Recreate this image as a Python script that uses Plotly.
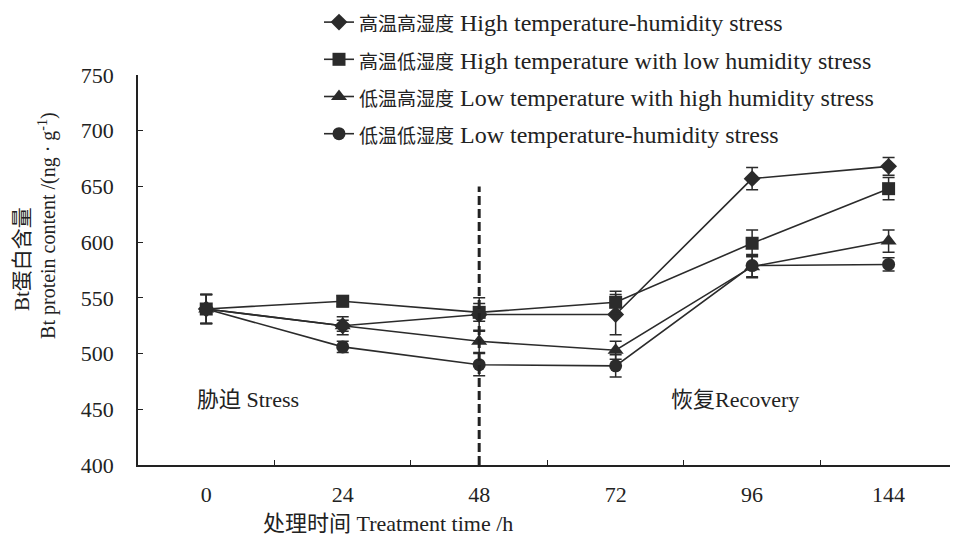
import plotly.graph_objects as go

times = ["0", "24", "48", "72", "96", "144"]

names_cn = ["高温高湿度", "高温低湿度", "低温高湿度", "低温低湿度"]
names_en = [
    "High temperature-humidity stress",
    "High temperature with low humidity stress",
    "Low temperature with high humidity stress",
    "Low temperature-humidity stress",
]
symbols = ["diamond", "square", "triangle-up", "circle"]

ht_hh = [540, 525, 535, 535, 657, 668]
ht_hh_err = [13, 5, 15, 18, 10, 8]
ht_lh = [540, 547, 537, 546, 599, 648]
ht_lh_err = [13, 5, 8, 10, 12, 10]
lt_hh = [540, 525, 511, 503, 578, 601]
lt_hh_err = [13, 8, 10, 8, 10, 10]
lt_lh = [540, 506, 490, 489, 579, 580]
lt_lh_err = [13, 5, 10, 10, 10, 6]

series = [ht_hh, ht_lh, lt_hh, lt_lh]
errors = [ht_hh_err, ht_lh_err, lt_hh_err, lt_lh_err]

stress_end = "48"
divider_top = 650

FONT = "Liberation Serif, Times New Roman, Noto Sans CJK SC, serif"
INK = "#222222"
MARK = "#2b2b2b"

fig = go.Figure()
for i, (cn, en, sym, ys, es) in enumerate(zip(names_cn, names_en, symbols, series, errors)):
    fig.add_trace(go.Scatter(
        x=times, y=ys,
        name=f'<span style="font-size:19px">{cn}</span> {en}',
        mode="lines+markers",
        legendgroup=f"g{i}",
        line=dict(color=MARK, width=1.6),
        marker=dict(symbol=sym, size=13 if sym != "triangle-up" else 14, color=MARK,
                    line=dict(width=0)),
        error_y=dict(type="data", array=es, visible=True, color=MARK,
                     thickness=1.5, width=6),
    ))

xi = times.index(stress_end)
fig.add_shape(type="line", xref="x", yref="y", x0=xi, x1=xi,
              y0=400, y1=divider_top,
              line=dict(color="#222222", width=3, dash="9px,4px"))

fig.add_annotation(text="胁迫 Stress", x=0.135, y=0.167, xref="paper", yref="paper",
                   showarrow=False, font=dict(family=FONT, size=22, color=INK),
                   xanchor="center", yanchor="middle")
fig.add_annotation(text="恢复Recovery", x=0.735, y=0.167, xref="paper", yref="paper",
                   showarrow=False, font=dict(family=FONT, size=22, color=INK),
                   xanchor="center", yanchor="middle")

# axis titles
fig.add_annotation(text="处理时间 Treatment time /h", x=(388 - 138) / 812, y=-0.149,
                   xref="paper", yref="paper", showarrow=False, xanchor="center",
                   yanchor="middle", font=dict(family=FONT, size=22, color=INK))
fig.add_annotation(text="Bt蛋白含量", x=(22 - 138) / 812, y=0.528, xref="paper",
                   yref="paper", showarrow=False, textangle=-90, xanchor="center",
                   yanchor="middle", font=dict(family=FONT, size=21, color=INK))
fig.add_annotation(text="Bt protein content /(ng · g<sup>-1</sup>)", x=(48 - 138) / 812,
                   y=0.613, xref="paper", yref="paper", showarrow=False, textangle=-90,
                   xanchor="center", yanchor="middle",
                   font=dict(family=FONT, size=20, color=INK))

fig.update_layout(
    width=954, height=540,
    margin=dict(l=138, r=4, t=75, b=75, autoexpand=False),
    paper_bgcolor="white", plot_bgcolor="white",
    font=dict(family=FONT, size=22, color=INK),
    showlegend=True,
    legend=dict(x=319 / 954, y=1.026, xref="container", yref="container",
                xanchor="left", yanchor="top",
                bgcolor="rgba(0,0,0,0)", tracegroupgap=3,
                font=dict(family=FONT, size=24, color=INK)),
    xaxis=dict(type="category", categoryorder="array", categoryarray=times,
               range=[-0.5, 5.45], showgrid=False, zeroline=False,
               showline=True, linecolor="#222222", linewidth=1.5,
               ticks="inside", ticklen=5, tickcolor="#222222", tickson="boundaries",
               ticklabelstandoff=9,
               tickfont=dict(family=FONT, size=22, color=INK)),
    yaxis=dict(range=[400, 750], tickvals=[400, 450, 500, 550, 600, 650, 700, 750],
               showgrid=False, zeroline=False, showline=True, linecolor="#222222",
               linewidth=1.5, ticks="inside", ticklen=5, tickcolor="#222222",
               ticklabelstandoff=18,
               tickfont=dict(family=FONT, size=22, color=INK)),
)

fig.write_html("out.html", config={"displayModeBar": False},
               post_script="document.body.style.margin='0';")
